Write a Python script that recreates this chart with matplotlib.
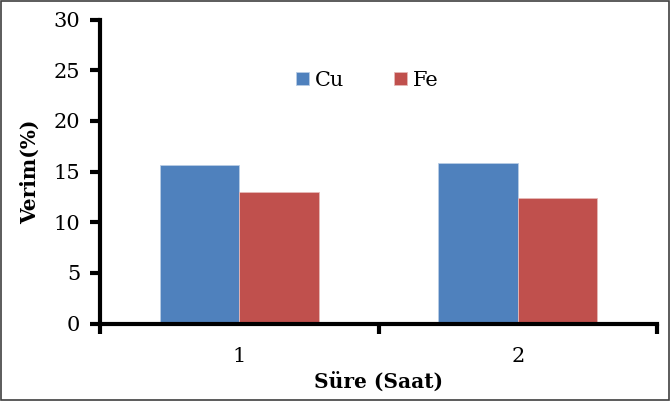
import matplotlib
matplotlib.use("Agg")
import matplotlib.pyplot as plt
import numpy as np
from matplotlib.patches import Rectangle

categories = ["1", "2"]
series_names = ["Cu", "Fe"]
cu_values = [15.7, 15.9]
fe_values = [13.0, 12.4]
y_ticks = [0, 5, 10, 15, 20, 25, 30]

plt.rcParams['font.family'] = ['DejaVu Serif']

fig = plt.figure(figsize=(6.70, 4.01), dpi=100)
ax = fig.add_axes([0.149, 0.193, 0.832, 0.758])

x = np.arange(1, len(categories) + 1)
w = 0.2855
ax.bar(x - w / 2, cu_values, width=w, color='#4F81BD', edgecolor='#B9CDE5', linewidth=0.6, label=series_names[0])
ax.bar(x + w / 2, fe_values, width=w, color='#C0504D', edgecolor='#E6B9B8', linewidth=0.6, label=series_names[1])

ax.set_xlim(0.5, len(categories) + 0.5)
ax.set_ylim(0, 30)
ax.set_yticks(y_ticks)
ax.set_yticklabels([str(t) for t in y_ticks], fontsize=15)
ax.set_xticks(x)
ax.set_xticklabels(categories, fontsize=15)
ax.tick_params(axis='x', length=0, pad=17)
ax.set_xticks(np.arange(0.5, len(categories) + 1, 1.0), minor=True)
ax.tick_params(axis='x', which='minor', length=7, width=3, direction='out')
ax.tick_params(axis='y', length=7, width=3, direction='out', pad=7)

for s in ['top', 'right']:
    ax.spines[s].set_visible(False)
for s in ['left', 'bottom']:
    ax.spines[s].set_linewidth(3)

ax.set_ylabel('Verim(%)', fontsize=14.5, fontweight='bold', va='center')
ax.set_xlabel('Süre (Saat)', fontsize=14.5, fontweight='bold', va='center')
ax.yaxis.set_label_coords(-0.126, 0.5)
ax.xaxis.set_label_coords(0.5, -0.193)

leg = ax.legend(loc='center', bbox_to_anchor=(0.48, 0.80), ncol=2, frameon=False,
                fontsize=15, handlelength=0.6, handleheight=0.6, handletextpad=0.3,
                columnspacing=2.4)

fig.patches.append(Rectangle((0.001, 0.002), 0.997, 0.995, transform=fig.transFigure,
                             fill=False, edgecolor='#404040', linewidth=1.2))

fig.savefig('out.png', dpi=100)
